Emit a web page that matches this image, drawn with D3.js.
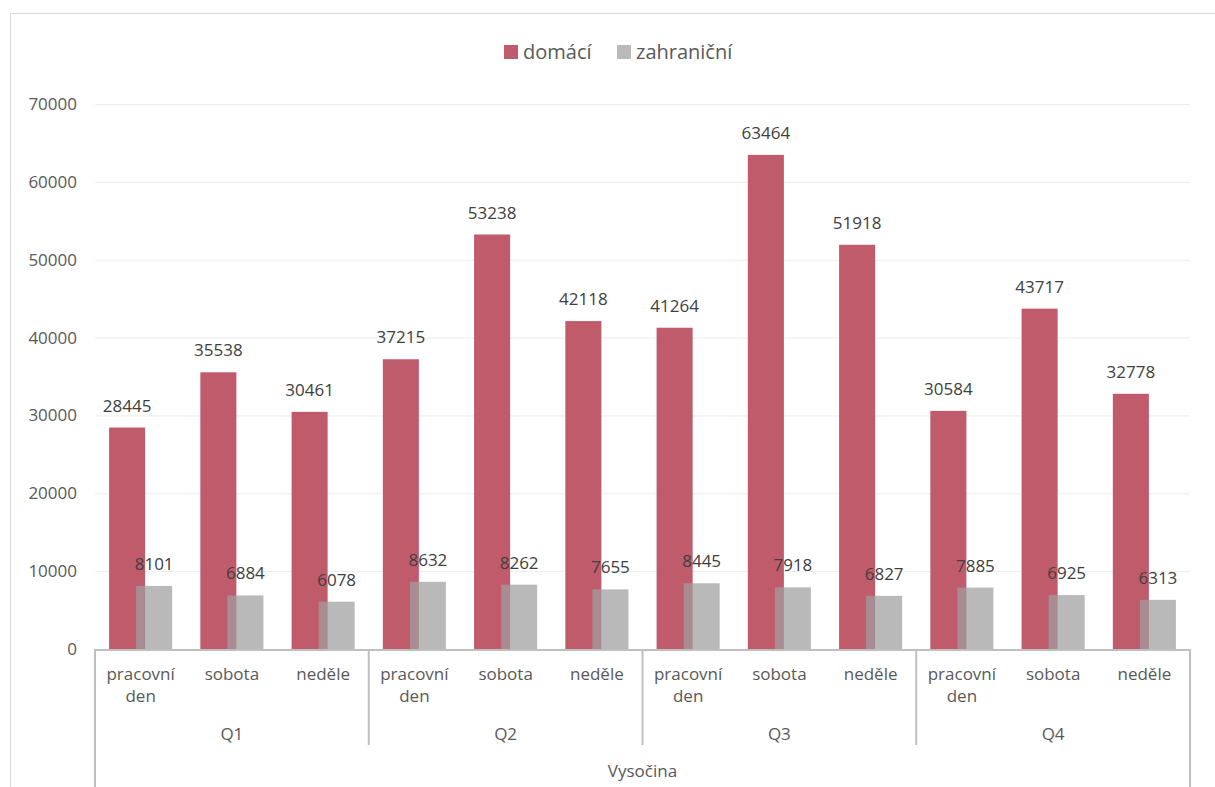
<!DOCTYPE html>
<html>
<head>
<meta charset="utf-8">
<script src="https://cdn.jsdelivr.net/npm/d3@7"></script>
<style>
body { margin: 0; background: #fff; }
svg text { font-family: "Open Sans", sans-serif; }
</style>
</head>
<body>
<svg id="chart" width="1215" height="787"></svg>
<script>
// data
var quarters = ["Q1", "Q2", "Q3", "Q4"];
var days = ["pracovní den", "sobota", "neděle"];
var region = "Vysočina";
var domaci = [28445, 35538, 30461, 37215, 53238, 42118, 41264, 63464, 51918, 30584, 43717, 32778];
var zahranicni = [8101, 6884, 6078, 8632, 8262, 7655, 8445, 7918, 6827, 7885, 6925, 6313];
var yTicks = [0, 10000, 20000, 30000, 40000, 50000, 60000, 70000];

var margin = {top: 104, left: 95, right: 25, bottom: 138};
var W = 1215, H = 787;
var width = W - margin.left - margin.right;
var height = H - margin.top - margin.bottom;
var fs = 17;

var svg = d3.select("#chart");

// frame
svg.append("rect")
	.attr("x", 10.5).attr("y", 13.5)
	.attr("width", 1215).attr("height", 800)
	.attr("fill", "none")
	.attr("stroke", "#d9d9d9");

var g = svg.append("g").attr("transform", `translate(${margin.left},${margin.top})`);

var cats = [];
quarters.forEach((q, qi) => days.forEach((d, di) => cats.push({q: q, d: d, i: qi * 3 + di})));

var x = d3.scaleBand().domain(cats.map(c => c.i)).range([0, width]);
var y = d3.scaleLinear().domain([0, 70000]).range([height, 0]);

// grid
g.append("g")
	.selectAll("line")
	.data(yTicks)
	.join("line")
		.attr("x1", 0).attr("x2", width)
		.attr("y1", d => y(d) + 0.5).attr("y2", d => y(d) + 0.5)
		.attr("stroke", "#ececec");

// y labels
g.append("g")
	.selectAll("text")
	.data(yTicks)
	.join("text")
		.attr("x", -18)
		.attr("y", d => y(d))
		.attr("dy", "0.35em")
		.attr("text-anchor", "end")
		.attr("font-size", fs)
		.attr("fill", "#595959")
		.text(d => d);

var bw = x.bandwidth() * 0.395;
var step = bw * 0.75;
var off = (x.bandwidth() - (bw + step)) / 2;

var red = "#c05b6b", grey = "#9f9f9f";

// bars
g.append("g")
	.selectAll("rect")
	.data(domaci)
	.join("rect")
		.attr("x", (d, i) => x(i) + off)
		.attr("y", d => y(d))
		.attr("width", bw)
		.attr("height", d => height - y(d))
		.attr("fill", red);

g.append("g")
	.selectAll("rect")
	.data(zahranicni)
	.join("rect")
		.attr("x", (d, i) => x(i) + off + step)
		.attr("y", d => y(d))
		.attr("width", bw)
		.attr("height", d => height - y(d))
		.attr("fill", grey)
		.attr("fill-opacity", 0.73);

// value labels
g.append("g")
	.selectAll("text")
	.data(domaci)
	.join("text")
		.attr("x", (d, i) => x(i) + off + bw / 2)
		.attr("y", d => y(d) - 16)
		.attr("text-anchor", "middle")
		.attr("font-size", fs)
		.attr("fill", "#404040")
		.text(d => d);

g.append("g")
	.selectAll("text")
	.data(zahranicni)
	.join("text")
		.attr("x", (d, i) => x(i) + off + step + bw / 2)
		.attr("y", d => y(d) - 16)
		.attr("text-anchor", "middle")
		.attr("font-size", fs)
		.attr("fill", "#404040")
		.text(d => d);

// category axis
var axisCol = "#bfbfbf";
g.append("line")
	.attr("x1", 0).attr("x2", width)
	.attr("y1", height + 1).attr("y2", height + 1)
	.attr("stroke", axisCol).attr("stroke-width", 2);

var qx = quarters.map((q, qi) => x(qi * 3));
qx.push(width);
g.append("g")
	.selectAll("line")
	.data(qx)
	.join("line")
		.attr("x1", d => d).attr("x2", d => d)
		.attr("y1", height)
		.attr("y2", (d, i) => (i === 0 || i === qx.length - 1) ? H - margin.top : height + 96)
		.attr("stroke", axisCol).attr("stroke-width", 2);

var dayLabels = g.append("g")
	.selectAll("text")
	.data(cats)
	.join("text")
		.attr("x", c => x(c.i) + x.bandwidth() / 2)
		.attr("y", height + 31)
		.attr("text-anchor", "middle")
		.attr("font-size", fs)
		.attr("fill", "#595959");
dayLabels.each(function(c) {
	var parts = c.d === "pracovní den" ? ["pracovní", "den"] : [c.d];
	d3.select(this).selectAll("tspan")
		.data(parts)
		.join("tspan")
			.attr("x", x(c.i) + x.bandwidth() / 2)
			.attr("dy", (p, k) => k === 0 ? 0 : 22)
			.text(p => p);
});

g.append("g")
	.selectAll("text")
	.data(quarters)
	.join("text")
		.attr("x", (q, qi) => x(qi * 3) + x.bandwidth() * 1.5)
		.attr("y", height + 91)
		.attr("text-anchor", "middle")
		.attr("font-size", fs)
		.attr("fill", "#595959")
		.text(q => q);

g.append("text")
	.attr("x", width / 2)
	.attr("y", height + 128)
	.attr("text-anchor", "middle")
	.attr("font-size", fs)
	.attr("fill", "#595959")
	.text(region);

// legend
var legend = svg.append("g").attr("transform", "translate(504,45)");
var items = [{name: "domácí", color: red, x: 0}, {name: "zahraniční", color: "#b9b9b9", x: 113}];
items.forEach(it => {
	legend.append("rect")
		.attr("x", it.x).attr("y", 0)
		.attr("width", 14).attr("height", 14)
		.attr("fill", it.color);
	legend.append("text")
		.attr("x", it.x + 19).attr("y", 7)
		.attr("dy", "0.35em")
		.attr("font-size", 20)
		.attr("fill", "#595959")
		.text(it.name);
});
</script>
</body>
</html>
